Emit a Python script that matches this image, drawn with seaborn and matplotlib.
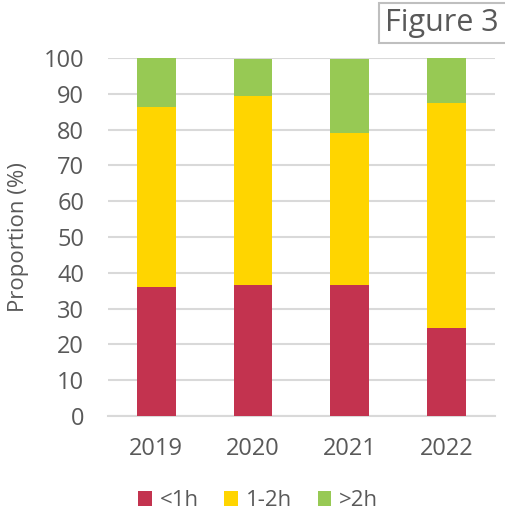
import matplotlib
matplotlib.use("Agg")
import matplotlib.pyplot as plt
import seaborn as sns
import pandas as pd
import numpy as np
from matplotlib.patches import Patch, Rectangle

years = ["2019", "2020", "2021", "2022"]
series_names = ["<1h", "1-2h", ">2h"]
lt1h = [36.1, 36.6, 36.6, 24.7]
h1to2 = [50.2, 52.9, 42.4, 62.7]
gt2h = [13.7, 10.3, 20.7, 12.6]
colors = ["#C3334F", "#FFD500", "#97C954"]
text_color = "#595959"

sns.set_theme(style="white")
plt.rcParams["font.family"] = ["Open Sans", "DejaVu Sans"]

W, H = 506, 513
fig = plt.figure(figsize=(W / 100, H / 100), dpi=100)
ax = fig.add_axes([0.213, 0.189, 0.765, 0.698])

values = [lt1h, h1to2, gt2h]
cum = np.cumsum(np.array(values), axis=0)
# draw from the top down so each segment overlays the cumulative bar
for i in reversed(range(len(series_names))):
    df = pd.DataFrame({"Year": years, "Value": cum[i]})
    sns.barplot(data=df, x="Year", y="Value", color=colors[i], width=0.4,
                saturation=1, ax=ax, zorder=3, edgecolor="none", linewidth=0)

ax.set_ylim(0, 100)
ax.set_xlim(-0.5, 3.5)
ax.set_yticks(np.arange(0, 101, 10))
ax.yaxis.grid(True, color="#D9D9D9", linewidth=1.5, zorder=0)
ax.set_axisbelow(True)
for s in ["top", "right", "left"]:
    ax.spines[s].set_visible(False)
ax.spines["bottom"].set_color("#D9D9D9")
ax.spines["bottom"].set_linewidth(1.5)
ax.tick_params(axis="both", length=0, labelsize=17, colors=text_color)
ax.tick_params(axis="y", pad=17)
ax.tick_params(axis="x", pad=15)
ax.set_xlabel("")
ax.set_ylabel("")
fig.text(19 / W, 0.538, "Proportion (%)", rotation=90, fontsize=16,
         color=text_color, ha="center", va="center")

handles = [Patch(facecolor=c, edgecolor="none") for c in colors]
fig.legend(handles, series_names, loc="center", bbox_to_anchor=(0.51, 0.024),
           ncol=3, frameon=False, fontsize=16, handlelength=0.62, handleheight=0.62,
           handletextpad=0.35, columnspacing=1.15, labelcolor=text_color,
           borderpad=0, borderaxespad=0)

# "Figure 3" label box, running off the right edge
fig.patches.append(Rectangle((379 / W, 1 - 43 / H), 140 / W, 40 / H,
                             transform=fig.transFigure, facecolor="white",
                             edgecolor="#BFBFBF", linewidth=1.5, zorder=5))
fig.text(385 / W, 1 - 23 / H, "Figure 3", fontsize=22, color=text_color,
         va="center", ha="left", zorder=6)

fig.savefig("out.png", dpi=100)
